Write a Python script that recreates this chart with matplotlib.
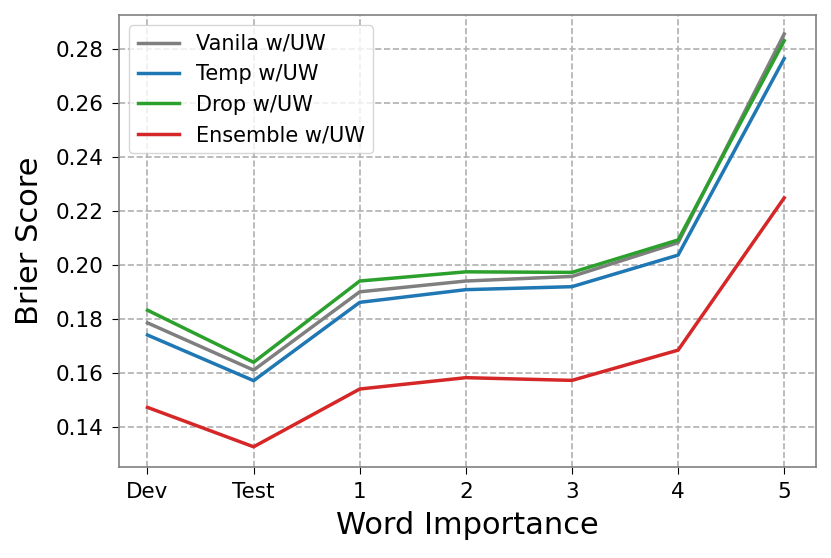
import matplotlib
matplotlib.use("Agg")
import matplotlib.pyplot as plt

categories = ["Dev", "Test", "1", "2", "3", "4", "5"]

vanila = [0.1786, 0.1611, 0.1901, 0.1941, 0.1958, 0.2083, 0.2856]
temp = [0.1741, 0.1572, 0.1862, 0.1909, 0.1920, 0.2037, 0.2765]
drop = [0.1833, 0.1640, 0.1941, 0.1975, 0.1973, 0.2093, 0.2831]
ensemble = [0.1473, 0.1327, 0.1541, 0.1583, 0.1573, 0.1685, 0.2249]

fig = plt.figure(figsize=(8.31, 5.58), dpi=100)
ax = fig.add_axes([0.143, 0.163, 0.839, 0.81])

x = range(len(categories))
ax.plot(x, vanila, color="tab:gray", lw=2.5, label="Vanila w/UW")
ax.plot(x, temp, color="tab:blue", lw=2.5, label="Temp w/UW")
ax.plot(x, drop, color="tab:green", lw=2.5, label="Drop w/UW")
ax.plot(x, ensemble, color="tab:red", lw=2.5, label="Ensemble w/UW")

ax.set_xticks(list(x))
ax.set_xticklabels(categories)
ax.set_xlim(-0.27, 6.3)
ax.set_ylim(0.1252, 0.2926)
ax.set_yticks([0.14, 0.16, 0.18, 0.20, 0.22, 0.24, 0.26, 0.28])
ax.tick_params(labelsize=15.5, length=5, pad=6)
ax.grid(True, linestyle="--", color="#b0b0b0", lw=1.2)
for s in ax.spines.values():
    s.set_color("#808080")
    s.set_linewidth(1.2)

ax.set_xlabel("Word Importance", fontsize=22, labelpad=6)
ax.set_ylabel("Brier Score", fontsize=22, labelpad=8)
leg = ax.legend(loc="upper left", fontsize=15, borderaxespad=0.5)
leg.get_frame().set_edgecolor("#cccccc")

fig.savefig("out.png", dpi=100)
